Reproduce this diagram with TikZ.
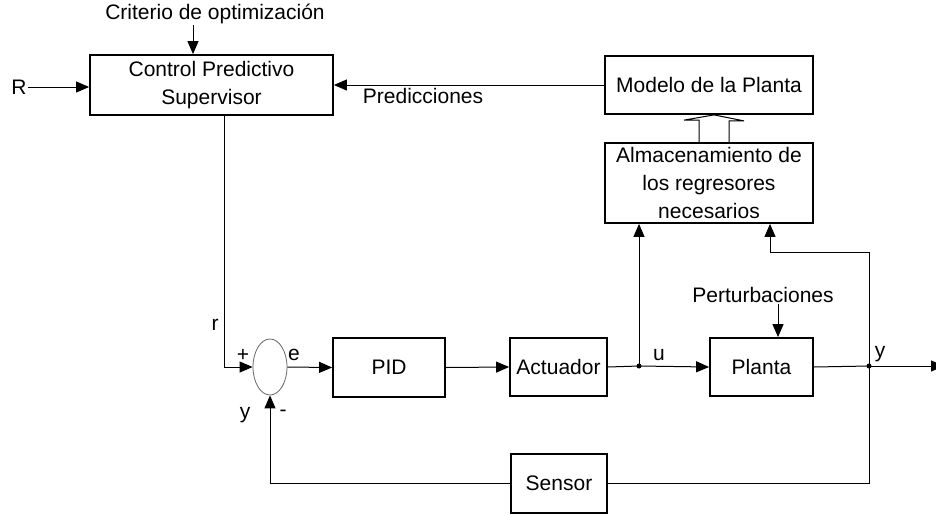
\documentclass[tikz,border=0pt]{standalone}
\usepackage{fontspec}
\setmainfont{Liberation Sans}
\usepackage{tikz}
\usetikzlibrary{positioning,calc,shapes.geometric,arrows.meta}

\tikzset{
  bloque/.style={draw,line width=1.8pt,align=center,inner sep=0pt},
  sumador/.style={draw=black!60,line width=0.8pt,ellipse,minimum width=34pt,minimum height=56pt,inner sep=0pt},
  etiqueta/.style={inner sep=1pt},
  flecha/.style={line width=1pt,-{Triangle[length=13pt,width=11pt]}},
  linea/.style={line width=1pt},
  punto/.style={circle,fill,inner sep=0pt,minimum size=5pt}
}

\begin{document}
\begin{tikzpicture}[x=1pt,y=-1pt,font=\fontsize{21}{28}\selectfont]
  \useasboundingbox (0,0) rectangle (936,515);
  \node[bloque,minimum width=243pt,minimum height=60pt] (ctrl) at (211.5,85) {Control Predictivo\\Supervisor};
  \node[bloque,minimum width=208pt,minimum height=58pt] (modelo) at (709,85) {Modelo de la Planta};
  \node[bloque,minimum width=208pt,minimum height=80pt] (almac) at (709,183) {Almacenamiento de\\los regresores\\necesarios};
  \node[bloque,minimum width=112pt,minimum height=59pt] (pid) at (389,367.5) {PID};
  \node[bloque,minimum width=97pt,minimum height=58pt] (act) at (558.5,367) {Actuador};
  \node[bloque,minimum width=103pt,minimum height=58pt] (planta) at (761.5,367) {Planta};
  \node[bloque,minimum width=96pt,minimum height=59pt] (sensor) at (559,483.5) {Sensor};
  \node[sumador] (sum) at (270,367) {};
  \node[etiqueta] (crit) at (215,14) {Criterio de optimización};
  \node[etiqueta] (R) at (19,87) {R};
  \node[etiqueta] (pert) at (763,295) {Perturbaciones};
  \node[punto] (ju) at (639,366) {};
  \node[punto] (jy) at (869,366) {};
  \coordinate (tap) at (869,252);
  \coordinate (out) at (944,366);

  \node[etiqueta] at (215,325) {r};
  \node[etiqueta] at (243,355) {+};
  \node[etiqueta] at (294,355) {e};
  \node[etiqueta] at (245,415) {y};
  \node[etiqueta] at (283,413) {-};
  \node[etiqueta] at (659,355) {u};
  \node[etiqueta] at (880,354) {y};

  \draw[flecha] ([xshift=-22pt]crit.south) -- ([xshift=-22pt]crit.south |- ctrl.north);
  \draw[flecha] (R.east) -- (R.east -| ctrl.west);
  \draw[flecha] (modelo.west) -- node[pos=0.67,below=2pt,etiqueta] {Predicciones} (ctrl.east);
  \draw[flecha] ([xshift=12.5pt]ctrl.south) |- (sum.west);
  \draw[flecha] (sum.east) -- (pid.west);
  \draw[flecha] (pid.east) -- (act.west);
  \draw[linea] (act.east) -- (ju.center);
  \draw[flecha] (ju.center) -- (planta.west);
  \draw[flecha] (ju.center) -- (ju.center |- almac.south);
  \draw[linea] (planta.east) -- (jy.center);
  \draw[flecha] (jy.center) -- (out);
  \draw[flecha] (jy.center) -- (tap) -| ([xshift=61pt]almac.south);
  \draw[linea] (jy.center) |- (sensor.east);
  \draw[flecha] (sensor.west) -| (sum.south);
  \draw[flecha] ([xshift=15pt]pert.south) -- ([xshift=16.5pt]planta.north);
  \draw[linea] ([xshift=-10pt]almac.north) -- ++(0,-22) -- ++(-15,0) -- ([xshift=5pt]modelo.south)
    -- ++(30,6) -- ++(-15,0) -- ([xshift=20pt]almac.north);
\end{tikzpicture}
\end{document}
